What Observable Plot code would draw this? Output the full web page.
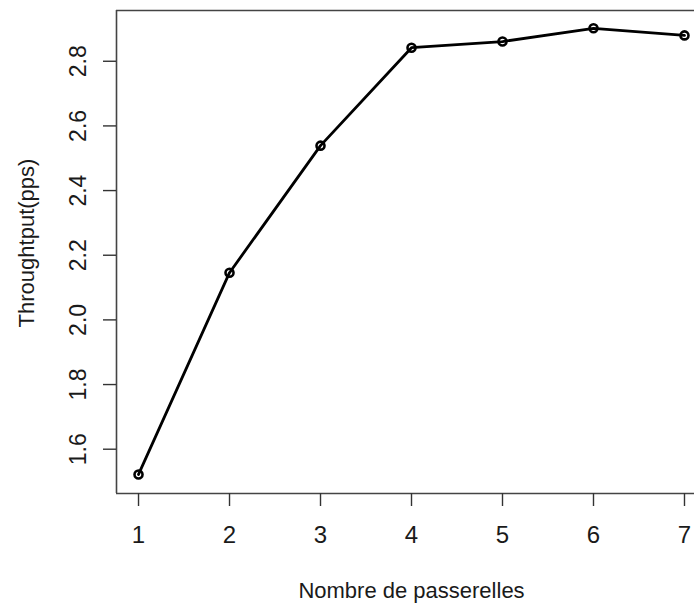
<!DOCTYPE html>
<html>
<head>
<meta charset="utf-8">
<script src="https://cdn.jsdelivr.net/npm/d3@7"></script>
<script src="https://cdn.jsdelivr.net/npm/@observablehq/plot@0.6"></script>
<style>
  html, body { margin: 0; padding: 0; background: #fff; }
  svg { display: block; }
</style>
</head>
<body>
<div id="chart"></div>
<script>
const passerelles = [1, 2, 3, 4, 5, 6, 7];
const throughput = [1.522, 2.146, 2.539, 2.842, 2.861, 2.902, 2.880];
const xTicks = [1, 2, 3, 4, 5, 6, 7];
const yTicks = [1.6, 1.8, 2.0, 2.2, 2.4, 2.6, 2.8];
const xTitle = "Nombre de passerelles";
const yTitle = "Throughtput(pps)";
const xDomain = [0.758, 7.11];
const yDomain = [1.463, 2.957];

const data = passerelles.map((p, i) => ({p, t: throughput[i]}));

const font = "'Liberation Sans', Arial, sans-serif";

const chart = Plot.plot({
  width: 694,
  height: 614,
  marginLeft: 116,
  marginRight: 0,
  marginTop: 10,
  marginBottom: 121,
  style: {fontFamily: font, color: "#1a1a1a", background: "#fff"},
  x: {domain: xDomain, axis: null},
  y: {domain: yDomain, axis: null},
  marks: [
    Plot.ruleY([yDomain[0], yDomain[1]], {stroke: "#444", strokeWidth: 1.6}),
    Plot.ruleX([xDomain[0]], {stroke: "#444", strokeWidth: 1.6}),
    Plot.axisX({ticks: xTicks, tickSize: 13, tickPadding: 19, fontSize: 24, label: null, stroke: "#333", strokeWidth: 1.4, tickFormat: d => String(d)}),
    Plot.axisY({ticks: yTicks, tickSize: 13, tickPadding: 18, fontSize: 23, label: null, tickRotate: -90, textAnchor: "middle", stroke: "#333", strokeWidth: 1.4, tickFormat: d => d.toFixed(1)}),
    Plot.line(data, {x: "p", y: "t", stroke: "#000", strokeWidth: 2.8}),
    Plot.dot(data, {x: "p", y: "t", r: 4, stroke: "#000", strokeWidth: 2.6, fill: "none"}),
    Plot.text([xTitle], {frameAnchor: "bottom", dx: 6, dy: 104, fontSize: 22, fill: "#1a1a1a"}),
    Plot.text([yTitle], {frameAnchor: "left", textAnchor: "middle", dx: -90, dy: -9, rotate: -90, fontSize: 22, fill: "#1a1a1a"})
  ]
});
document.getElementById("chart").appendChild(chart);
</script>
</body>
</html>
